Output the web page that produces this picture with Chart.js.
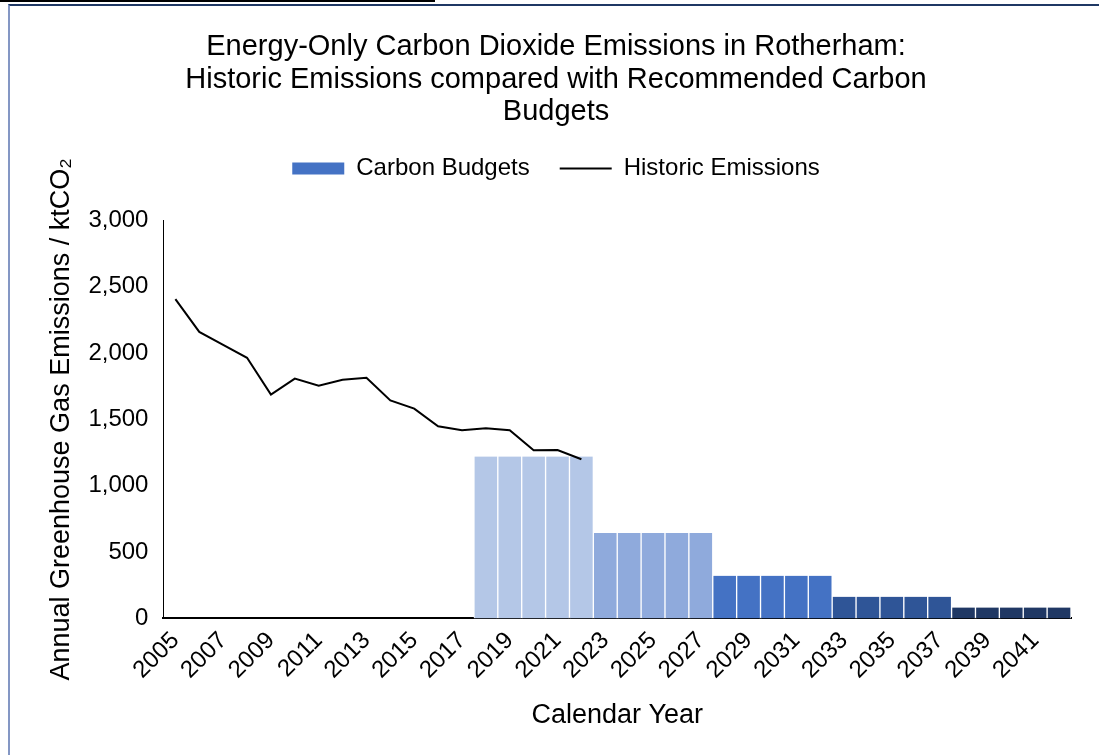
<!DOCTYPE html>
<html>
<head>
<meta charset="utf-8">
<script src="https://cdn.jsdelivr.net/npm/chart.js@4"></script>
<style>
  html, body { margin: 0; padding: 0; background: #fff; }
  body { width: 1099px; height: 755px; position: relative; overflow: hidden; }
  #topRule { position: absolute; left: 0; top: 0; width: 435px; height: 2px; background: #000; }
  #frame { position: absolute; left: 8px; top: 4px; width: 1091px; height: 751px;
           border-top: 2px solid #1f3864; border-left: 2px solid #8497c4; box-sizing: border-box; }
  #wrap { position: absolute; left: 10px; top: 6px; width: 1089px; height: 749px; }
</style>
</head>
<body>
<div id="topRule"></div>
<div id="frame"></div>
<div id="wrap"><canvas id="chart"></canvas></div>
<script>
const years = [];
for (let y = 2005; y <= 2042; y++) years.push(String(y));

// historic energy-only CO2, ktCO2, 2005-2022
const historic = [2407, 2160, 2062, 1965, 1688, 1808, 1755, 1800, 1815, 1643,
                  1582, 1448, 1418, 1433, 1418, 1268, 1270, 1200];

// recommended carbon budget per year, five-year periods from 2018
const budgetPeriods = ["2018-2022", "2023-2027", "2028-2032", "2033-2037", "2038-2042"];
const budgetAnnual = [1220, 645, 322, 163, 82];
const periodColors = ["#b4c7e7", "#8faadc", "#4472c4", "#2f5597", "#203864"];

const budgetStart = years.indexOf("2018");
const budgetData = years.map((y, i) => {
  const p = Math.floor((i - budgetStart) / 5);
  return i >= budgetStart ? budgetAnnual[p] : null;
});
const barColors = years.map((y, i) => {
  const p = Math.floor((i - budgetStart) / 5);
  return i >= budgetStart ? periodColors[p] : "#ffffff";
});

const font = "'Liberation Sans', Arial, sans-serif";
Chart.defaults.font.family = font;
Chart.defaults.color = "#000";

// extra room under the legend
const legendGap = {
  id: "legendGap",
  beforeInit(chart) {
    const fit = chart.legend.fit;
    chart.legend.fit = function () {
      fit.bind(chart.legend)();
      this.height += 30;
    };
  }
};

new Chart(document.getElementById("chart"), {
  type: "bar",
  data: {
    labels: years,
    datasets: [
      {
        type: "line",
        label: "Historic Emissions",
        data: historic,
        borderColor: "#000",
        backgroundColor: "#000",
        borderWidth: 2,
        pointRadius: 0,
        tension: 0,
        order: 0,
        pointStyle: "line"
      },
      {
        label: "Carbon Budgets",
        data: budgetData,
        backgroundColor: barColors,
        borderColor: "#ffffff",
        borderWidth: { left: 1, right: 1, top: 0, bottom: 0 },
        barPercentage: 1,
        categoryPercentage: 1,
        order: 1,
        pointStyle: "rect"
      }
    ]
  },
  plugins: [legendGap],
  options: {
    responsive: true,
    maintainAspectRatio: false,
    animation: false,
    layout: { padding: { left: 31, right: 28, top: 12, bottom: 19 } },
    plugins: {
      title: {
        display: true,
        text: ["Energy-Only Carbon Dioxide Emissions in Rotherham:",
               "Historic Emissions compared with Recommended Carbon",
               "Budgets"],
        font: { size: 29, weight: "normal", lineHeight: 1.12 },
        padding: { top: 13, bottom: -2 }
      },
      legend: {
        reverse: true,
        labels: {
          usePointStyle: true,
          pointStyleWidth: 52,
          boxHeight: 12,
          padding: 30,
          font: { size: 24 },
          generateLabels(chart) {
            const items = Chart.defaults.plugins.legend.labels.generateLabels(chart);
            items.forEach(it => {
              if (it.text === "Carbon Budgets") {
                it.fillStyle = "#4472c4";
                it.strokeStyle = "#4472c4";
                it.lineWidth = 0;
              } else {
                it.lineWidth = 2;
                it.strokeStyle = "#000";
              }
            });
            return items;
          }
        }
      },
      tooltip: { enabled: false }
    },
    scales: {
      x: {
        grid: { display: false, drawTicks: false },
        border: { color: "#000", width: 2 },
        ticks: {
          autoSkip: false,
          minRotation: 45,
          maxRotation: 45,
          padding: 8,
          font: { size: 24 },
          callback(v, i) { return i % 2 === 0 ? years[i] : ""; }
        },
        title: { display: true, text: "Calendar Year", font: { size: 27 }, padding: { top: 7 } }
      },
      y: {
        min: 0,
        max: 3000,
        grid: { display: false, drawOnChartArea: false, drawTicks: true, tickLength: 8, color: "#000" },
        border: { color: "#000", width: 1 },
        ticks: {
          stepSize: 500,
          padding: 7,
          font: { size: 24 },
          callback: v => v.toLocaleString("en-GB")
        },
        title: { display: true, text: "Annual Greenhouse Gas Emissions / ktCO₂", font: { size: 27 }, padding: { top: 4, bottom: 4 } }
      }
    }
  }
});
</script>
</body>
</html>
